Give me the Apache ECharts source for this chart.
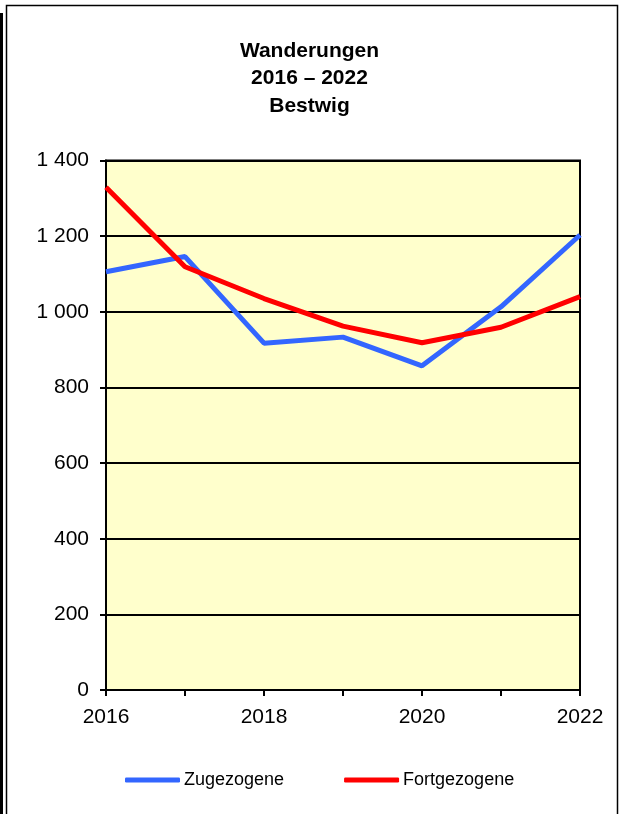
<!DOCTYPE html>
<html><head><meta charset="utf-8">
<script src="https://cdn.jsdelivr.net/npm/echarts@6/dist/echarts.min.js"></script>
<style>html,body{margin:0;padding:0;background:#fff;}#c{width:619px;height:814px;}</style>
</head><body><div id="c"></div>
<script>
const years = ['2016','2017','2018','2019','2020','2021','2022'];
const zugezogene = [1106, 1146, 917, 933, 857, 1013, 1203];
const fortgezogene = [1329, 1119, 1035, 962, 918, 959, 1040];
const titleText = 'Wanderungen\n2016 – 2022\nBestwig';

const chart = echarts.init(document.getElementById('c'));
const font = 'Liberation Sans, Arial, sans-serif';
chart.setOption({
  animation: false,
  backgroundColor: '#fff',
  textStyle: {fontFamily: font},
  title: {
    text: titleText, left: 'center', top: 32, itemGap: 0,
    textStyle: {fontFamily: font, fontSize: 21, fontWeight: 'bold', color: '#000', lineHeight: 27.5}
  },
  graphic: [
    {type: 'rect', shape: {x: 0, y: 13, width: 3, height: 810}, style: {fill: '#000'}},
    {type: 'rect', shape: {x: 6.5, y: 5.5, width: 611, height: 820}, style: {fill: 'none', stroke: '#000', lineWidth: 1.5}}
  ],
  legend: {
    top: 766, left: 120, itemGap: 60, itemWidth: 55, itemHeight: 5,
    icon: 'roundRect',
    textStyle: {fontFamily: font, fontSize: 18, color: '#000', padding: [0,0,0,-1]},
    data: ['Zugezogene', 'Fortgezogene']
  },
  grid: {left: 106, top: 160.5, width: 474, height: 529.5, show: true, backgroundColor: '#FFFFCC', borderColor: '#000', borderWidth: 2},
  xAxis: {
    type: 'category', data: years, boundaryGap: false,
    axisLine: {lineStyle: {color: '#000', width: 2}},
    axisTick: {show: true, interval: 0, length: 6, lineStyle: {color: '#000', width: 2}},
    axisLabel: {interval: 1, color: '#000', fontSize: 21, margin: 17, fontFamily: font},
    splitLine: {show: false}
  },
  yAxis: {
    type: 'value', min: 0, max: 1400, interval: 200,
    axisLine: {show: true, lineStyle: {color: '#000', width: 2}},
    axisTick: {show: true, length: 6, lineStyle: {color: '#000', width: 2}},
    axisLabel: {color: '#000', fontSize: 21, margin: 17, fontFamily: font,
      formatter: v => v >= 1000 ? Math.floor(v/1000) + ' ' + String(v%1000).padStart(3,'0') : String(v)},
    splitLine: {show: true, lineStyle: {color: '#000', width: 2}}
  },
  series: [
    {name: 'Zugezogene', type: 'line', data: zugezogene, showSymbol: false, symbol: 'none',
     lineStyle: {color: '#3366FF', width: 5}, itemStyle: {color: '#3366FF'}, z: 3},
    {name: 'Fortgezogene', type: 'line', data: fortgezogene, showSymbol: false, symbol: 'none',
     lineStyle: {color: '#FF0000', width: 5}, itemStyle: {color: '#FF0000'}, z: 4}
  ]
});
</script></body></html>
